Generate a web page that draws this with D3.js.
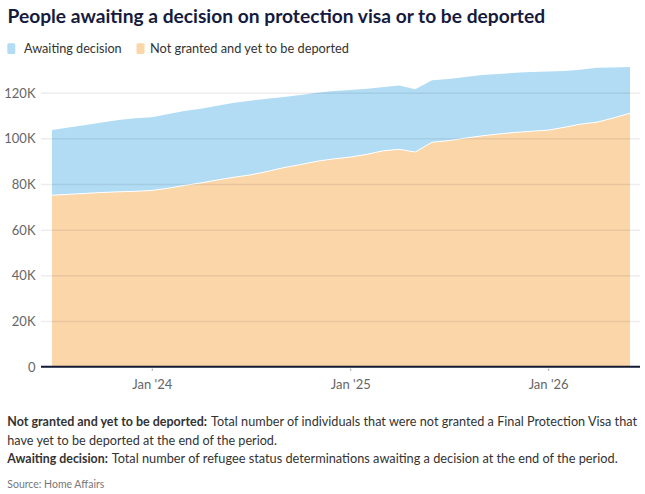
<!DOCTYPE html>
<html><head><meta charset="utf-8">
<script src="https://cdn.jsdelivr.net/npm/d3@7"></script>
<style>
html,body{margin:0;padding:0;background:#fff;}
svg{display:block;font-family:Lato,'Noto Sans',sans-serif;}
</style></head>
<body>
<svg id="c" width="645" height="494"></svg>
<script>
const months = ["2023-07","2023-08","2023-09","2023-10","2023-11","2023-12",
"2024-01","2024-02","2024-03","2024-04","2024-05","2024-06",
"2024-07","2024-08","2024-09","2024-10","2024-11","2024-12",
"2025-01","2025-02","2025-03","2025-04","2025-05","2025-06",
"2025-07","2025-08","2025-09","2025-10","2025-11","2025-12",
"2026-01","2026-02","2026-03","2026-04","2026-05","2026-06"];
const notGranted = [75100,75500,75900,76300,76600,76800,77200,78200,79400,80500,81800,83000,
84000,85500,87200,88500,90000,91000,91800,93000,94500,95200,94000,98300,
99000,100100,101100,101900,102600,103100,103600,104900,106200,107100,108900,111000];
const awaiting = [28600,29300,29900,30600,31400,32000,32100,32500,32600,32500,32500,32600,
32500,31900,30900,30500,30000,29700,29400,28700,27900,27900,27500,27200,
27000,26800,26600,26300,26100,26000,25700,24600,23900,23800,22100,20300];
const seriesKeys = ["notGranted","awaiting"];
const seriesLabels = ["Awaiting decision","Not granted and yet to be deported"];
const yTicks = [0,20000,40000,60000,80000,100000,120000];
const yTickLabels = ["0","20K","40K","60K","80K","100K","120K"];
const xTicks = ["2024-01","2025-01","2026-01"];
const xTickLabels = ["Jan '24","Jan '25","Jan '26"];

const colors = {awaiting:"#b1dcf4", notGranted:"#fad6a9"};
const parse = d3.timeParse("%Y-%m");
const rows = months.map((m,i)=>({date:parse(m), notGranted:notGranted[i], awaiting:awaiting[i]}));

const svg = d3.select("#c");
const x = d3.scaleTime().domain([parse(months[0]), parse(months[months.length-1])]).range([52,630]);
const y = d3.scaleLinear().domain([0,120000]).range([366.7,92.7]);

// fit: shrink font-size if natural width exceeds target, then stretch/compress slightly with textLength
function fitText(sel, w){
  const n = sel.node().getComputedTextLength();
  if (n > w) {
    const fs = parseFloat(sel.attr("font-size"));
    sel.attr("font-size", (fs * w / n).toFixed(2));
  }
  const n2 = sel.node().getComputedTextLength();
  if (Math.abs(n2 - w) > 0.5) sel.attr("textLength", w).attr("lengthAdjust","spacingAndGlyphs");
  return sel;
}

// title
fitText(svg.append("text").attr("x",7.5).attr("y",22.5).attr("font-size",20).attr("font-weight",700)
  .attr("fill","#161b3d").text("People awaiting a decision on protection visa or to be deported"), 538);

// legend
const legendPos = [{sx:7.3, tx:24, tw:97.7},{sx:136.5, tx:150, tw:199}];
seriesLabels.forEach((lab,i)=>{
  const key = i===0 ? "awaiting" : "notGranted";
  svg.append("rect").attr("x",legendPos[i].sx).attr("y",43.3).attr("width",8).attr("height",10.7)
    .attr("rx",1.5).attr("fill",colors[key]);
  fitText(svg.append("text").attr("x",legendPos[i].tx).attr("y",53.3).attr("font-size",13.5)
    .attr("fill","#333").text(lab), legendPos[i].tw);
});

// areas
const stack = d3.stack().keys(seriesKeys)(rows);
const area = d3.area().x(d=>x(d.data.date)).y0(d=>y(d[0])).y1(d=>y(d[1]));
svg.append("g").selectAll("path").data(stack).join("path")
  .attr("d",area).attr("fill",d=>colors[d.key]);
const line = d3.line().x(d=>x(d.data.date)).y(d=>y(d[1]));
svg.append("path").attr("d",line(stack[0])).attr("fill","none").attr("stroke","#fff").attr("stroke-width",1);

// y axis + gridlines
const yAxis = d3.axisLeft(y).tickValues(yTicks).tickSize(0).tickFormat((d,i)=>yTickLabels[i]);
const gy = svg.append("g").attr("transform","translate(41,0)").call(yAxis);
gy.select(".domain").remove();
gy.selectAll(".tick text").attr("x",-5.5).attr("dy","0.35em").attr("font-size",13)
  .attr("font-family","Lato,'Noto Sans',sans-serif").attr("fill","#666");
gy.selectAll(".tick").filter(d=>d!==0).append("line").attr("x1",0).attr("x2",599)
  .attr("stroke","rgba(0,0,0,0.07)").attr("stroke-width",1.5);

// x axis
const xAxis = d3.axisBottom(x).tickValues(xTicks.map(parse)).tickSize(4).tickFormat((d,i)=>xTickLabels[i]);
const gx = svg.append("g").attr("transform","translate(0,366.7)").call(xAxis);
gx.select(".domain").remove();
gx.selectAll(".tick line").attr("stroke","#999").attr("y1",2);
gx.selectAll(".tick text").attr("y",13).attr("font-size",13)
  .attr("font-family","Lato,'Noto Sans',sans-serif").attr("fill","#666");
svg.append("line").attr("x1",41).attr("x2",640).attr("y1",366.7).attr("y2",366.7)
  .attr("stroke","#121a33").attr("stroke-width",2);

// notes
const notes = [
  {y:426.3, parts:[{t:"Not granted and yet to be deported:",b:true,x:7.3,w:199.7},{t:"Total number of individuals that were not granted a Final Protection Visa that",b:false,x:211,w:426}]},
  {y:444.7, parts:[{t:"have yet to be deported at the end of the period.",b:false,x:7.3,w:270}]},
  {y:462.7, parts:[{t:"Awaiting decision:",b:true,x:7.3,w:100.7},{t:"Total number of refugee status determinations awaiting a decision at the end of the period.",b:false,x:111.7,w:506}]}
];
notes.forEach(n=>n.parts.forEach(p=>{
  fitText(svg.append("text").attr("x",p.x).attr("y",n.y).attr("font-size",13.5)
    .attr("font-weight",p.b?700:400).attr("fill","#333").text(p.t), p.w);
}));
fitText(svg.append("text").attr("x",7.3).attr("y",488.3).attr("font-size",11.5).attr("fill","#777")
  .text("Source: Home Affairs"), 97);
</script>
</body></html>
